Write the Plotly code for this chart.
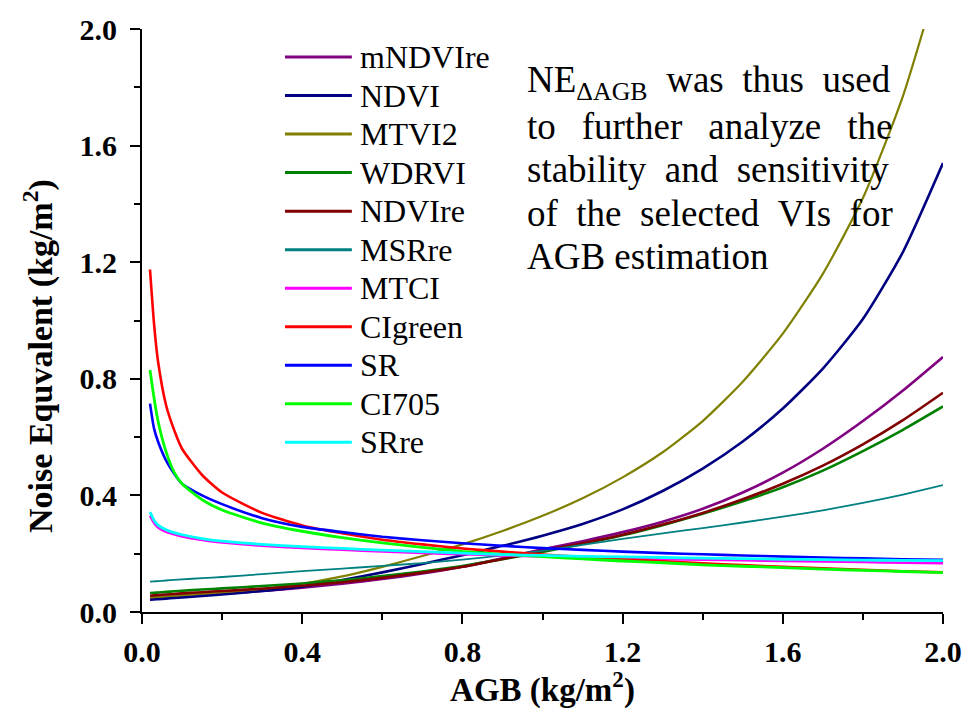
import plotly.graph_objects as go

AGB = [0.02, 0.03, 0.04, 0.06, 0.08, 0.1, 0.15, 0.2, 0.3, 0.4, 0.5, 0.6, 0.7, 0.8, 0.9,
       1.0, 1.1, 1.2, 1.3, 1.4, 1.5, 1.6, 1.7, 1.8, 1.9, 2.0]

mNDVIre = [0.048, 0.049, 0.050, 0.051, 0.053, 0.055, 0.059, 0.063, 0.072, 0.083, 0.097, 0.113, 0.132,
           0.155, 0.184, 0.215, 0.243, 0.274, 0.310, 0.354, 0.410, 0.478, 0.560, 0.655, 0.760, 0.875]
NDVI = [0.042, 0.043, 0.044, 0.046, 0.048, 0.050, 0.055, 0.060, 0.072, 0.087, 0.110, 0.136, 0.165,
        0.195, 0.227, 0.262, 0.302, 0.352, 0.415, 0.492, 0.585, 0.698, 0.835, 1.005, 1.235, 1.540]
MTVI2 = [0.050, 0.051, 0.052, 0.054, 0.056, 0.058, 0.063, 0.068, 0.080, 0.097, 0.122, 0.155, 0.192,
         0.232, 0.278, 0.330, 0.390, 0.462, 0.548, 0.655, 0.790, 0.955, 1.160, 1.420, 1.770, 2.230]
WDRVI = [0.065, 0.066, 0.067, 0.069, 0.071, 0.073, 0.077, 0.081, 0.089, 0.098, 0.109, 0.123, 0.139,
         0.158, 0.181, 0.206, 0.233, 0.263, 0.298, 0.337, 0.380, 0.428, 0.485, 0.552, 0.625, 0.705]
NDVIre = [0.056, 0.057, 0.058, 0.060, 0.062, 0.064, 0.068, 0.072, 0.080, 0.090, 0.102, 0.117, 0.135,
          0.155, 0.182, 0.210, 0.236, 0.265, 0.300, 0.340, 0.387, 0.440, 0.502, 0.575, 0.658, 0.752]
MSRre = [0.104, 0.105, 0.106, 0.108, 0.110, 0.112, 0.116, 0.120, 0.130, 0.140, 0.149, 0.158, 0.168,
         0.180, 0.194, 0.210, 0.230, 0.251, 0.270, 0.288, 0.307, 0.327, 0.349, 0.374, 0.403, 0.435]
MTCI = [0.330, 0.305, 0.290, 0.275, 0.266, 0.259, 0.247, 0.238, 0.227, 0.219, 0.213, 0.207, 0.202,
        0.198, 0.194, 0.190, 0.187, 0.184, 0.181, 0.179, 0.177, 0.175, 0.173, 0.171, 0.169, 0.167]
CIgreen = [1.175, 0.990, 0.860, 0.710, 0.625, 0.560, 0.470, 0.410, 0.340, 0.297, 0.270, 0.248, 0.232,
           0.218, 0.207, 0.197, 0.189, 0.181, 0.174, 0.167, 0.161, 0.155, 0.150, 0.145, 0.140, 0.136]
SR = [0.715, 0.630, 0.585, 0.520, 0.475, 0.440, 0.400, 0.370, 0.322, 0.292, 0.274, 0.258, 0.246,
      0.236, 0.227, 0.219, 0.213, 0.207, 0.202, 0.198, 0.194, 0.190, 0.187, 0.184, 0.181, 0.179]
CI705 = [0.830, 0.735, 0.655, 0.550, 0.480, 0.440, 0.385, 0.350, 0.305, 0.277, 0.255, 0.237, 0.222,
         0.208, 0.198, 0.190, 0.182, 0.175, 0.169, 0.162, 0.157, 0.152, 0.147, 0.143, 0.139, 0.135]
SRre = [0.343, 0.315, 0.298, 0.282, 0.272, 0.265, 0.252, 0.243, 0.232, 0.224, 0.218, 0.212, 0.207,
        0.202, 0.197, 0.194, 0.191, 0.189, 0.187, 0.185, 0.183, 0.181, 0.180, 0.178, 0.177, 0.176]

NAMES = ["mNDVIre", "NDVI", "MTVI2", "WDRVI", "NDVIre", "MSRre", "MTCI", "CIgreen", "SR", "CI705", "SRre"]
VALUES = [mNDVIre, NDVI, MTVI2, WDRVI, NDVIre, MSRre, MTCI, CIgreen, SR, CI705, SRre]
COLORS = ["#800080", "#000080", "#808000", "#008000", "#800000", "#008080",
          "#FF00FF", "#FF0000", "#0000FF", "#00FF00", "#00FFFF"]
WIDTHS = [2.6, 2.6, 2.2, 2.6, 2.6, 1.8, 2.4, 2.6, 2.6, 2.8, 2.8]

TICKS = [0.0, 0.4, 0.8, 1.2, 1.6, 2.0]
TICK_TEXT = ["0.0", "0.4", "0.8", "1.2", "1.6", "2.0"]

FONT = "Liberation Serif"

fig = go.Figure()
for name, vals, color, w in zip(NAMES, VALUES, COLORS, WIDTHS):
    fig.add_trace(go.Scatter(x=AGB, y=vals, mode="lines", name=name, showlegend=False,
                             line=dict(color=color, width=w, shape="spline", smoothing=0.6)))

axis_common = dict(
    showline=True, linecolor="black", linewidth=2, mirror=False,
    showgrid=False, zeroline=False,
    ticks="outside", ticklen=10, tickwidth=2, tickcolor="black",
    tickfont=dict(family=FONT, size=30, color="black", weight="bold"),
    minor=dict(ticks="outside", ticklen=6, tickwidth=2, tickcolor="black", dtick=0.2),
)

fig.update_xaxes(range=[0, 2.0], tickvals=TICKS, ticktext=TICK_TEXT, ticklabelstandoff=2,
                 title=dict(text="AGB (kg/m<sup>2</sup>)",
                            font=dict(family=FONT, size=33, color="black", weight="bold"), standoff=6),
                 **axis_common)
fig.update_yaxes(range=[0, 2.0], tickvals=TICKS, ticktext=TICK_TEXT, ticklabelstandoff=7, **axis_common)

fig.update_layout(
    width=978, height=709,
    margin=dict(l=142, r=35, t=20, b=97),
    paper_bgcolor="white", plot_bgcolor="white",
    showlegend=False,
)

# y-axis title
fig.add_annotation(xref="paper", yref="paper", x=-0.13, y=0.439, xanchor="center", yanchor="middle",
                   textangle=-90, showarrow=False, text="Noise Equvalent (kg/m<sup>2</sup>)",
                   font=dict(family=FONT, size=34, color="black", weight="bold"))

# legend (line samples + labels inside the plot)
LEG_TOP, LEG_STEP = 0.952, 0.0661
for i, (name, color, w) in enumerate(zip(NAMES, COLORS, WIDTHS)):
    yy = LEG_TOP - i * LEG_STEP
    fig.add_shape(type="line", xref="paper", yref="paper", x0=0.1785, x1=0.262, y0=yy, y1=yy,
                  line=dict(color=color, width=3))
    fig.add_annotation(xref="paper", yref="paper", x=0.2697, y=yy, xanchor="left", yanchor="middle",
                       showarrow=False, text=name, font=dict(family=FONT, size=32, color="black"))

NB = "\u00a0"
TH = "\u2009"
g1 = NB * 2
g2 = NB * 2 + TH
g3 = NB * 2
text_lines = [
    "NE<sub>ΔAGB</sub>" + g1 + "was" + g1 + "thus" + g1 + "used",
    "to" + g2 + "further" + g2 + "analyze" + g2 + "the",
    "stability" + g3 + "and" + g3 + "sensitivity",
    "of" + g3 + "the" + g3 + "selected" + g3 + "VIs" + g3 + "for",
    "AGB estimation",
]
TXT_TOP, TXT_STEP = 0.908, 0.0747
for i, t in enumerate(text_lines):
    fig.add_annotation(xref="paper", yref="paper", x=0.478, y=TXT_TOP - i * TXT_STEP,
                       xanchor="left", yanchor="middle", showarrow=False, text=t,
                       font=dict(family=FONT, size=37, color="black"))

fig.write_html("out.html")
